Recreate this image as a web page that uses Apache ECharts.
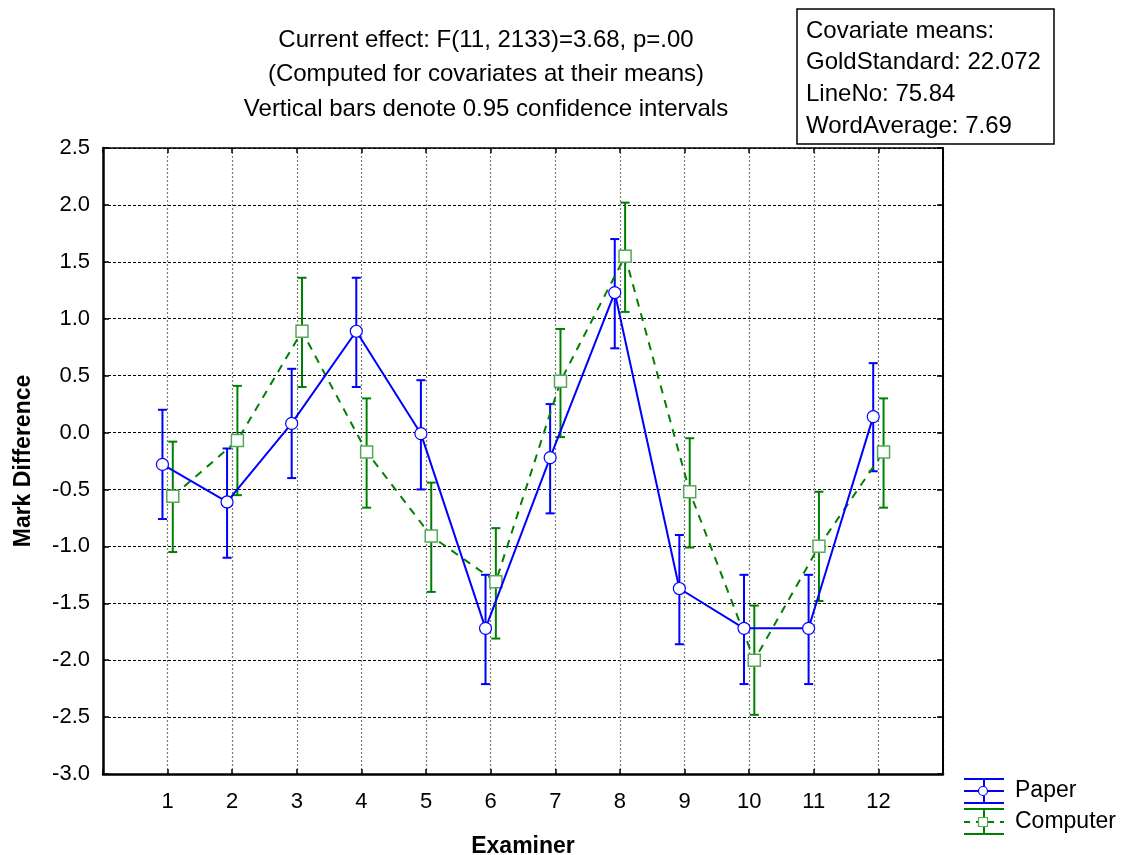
<!DOCTYPE html>
<html>
<head>
<meta charset="utf-8">
<script src="https://cdn.jsdelivr.net/npm/echarts@6/dist/echarts.min.js"></script>
<style>
html,body{margin:0;padding:0;background:#fff;}
#chart{width:1145px;height:855px;}
</style>
</head>
<body>
<div id="chart"></div>
<script>
// ---- data ----
const categories = [1, 2, 3, 4, 5, 6, 7, 8, 9, 10, 11, 12];
const paperMean = [-0.28, -0.61, 0.08, 0.89, -0.01, -1.72, -0.22, 1.23, -1.37, -1.72, -1.72, 0.14];
const paperLow  = [-0.76, -1.10, -0.40, 0.40, -0.50, -2.21, -0.71, 0.74, -1.86, -2.21, -2.21, -0.34];
const paperHigh = [0.20, -0.14, 0.56, 1.36, 0.46, -1.25, 0.25, 1.70, -0.90, -1.25, -1.25, 0.61];
const compMean  = [-0.56, -0.07, 0.89, -0.17, -0.91, -1.31, 0.45, 1.55, -0.52, -2.00, -1.00, -0.17];
const compLow   = [-1.05, -0.55, 0.40, -0.66, -1.40, -1.81, -0.04, 1.06, -1.01, -2.48, -1.48, -0.66];
const compHigh  = [-0.08, 0.41, 1.36, 0.30, -0.44, -0.84, 0.91, 2.02, -0.05, -1.52, -0.52, 0.30];
const yTicks = { min: -3.0, max: 2.5, step: 0.5 };
const titleLines = [
  'Current effect: F(11, 2133)=3.68, p=.00',
  '(Computed for covariates at their means)',
  'Vertical bars denote 0.95 confidence intervals'
];
const covLines = ['Covariate means:', 'GoldStandard: 22.072', 'LineNo: 75.84', 'WordAverage: 7.69'];
const seriesNames = ['Paper', 'Computer'];

// ---- styling ----
const FONT = "'Liberation Sans', Arial, sans-serif";
const BLUE = '#0000ff';
const GREEN = '#008000';
const SHIFT = 0.08;

const chart = echarts.init(document.getElementById('chart'), null, { renderer: 'canvas' });

function errData(lo, hi, dx) {
  return categories.map((c, i) => [c + dx, lo[i], hi[i]]);
}
function lineData(mean, dx) {
  return categories.map((c, i) => [c + dx, mean[i]]);
}
function errRender(color) {
  return function (params, api) {
    const x = api.value(0);
    const p1 = api.coord([x, api.value(1)]);
    const p2 = api.coord([x, api.value(2)]);
    const w = 4.5;
    const st = { stroke: color, lineWidth: 2 };
    return {
      type: 'group',
      children: [
        { type: 'line', shape: { x1: p1[0], y1: p1[1], x2: p2[0], y2: p2[1] }, style: st },
        { type: 'line', shape: { x1: p1[0] - w, y1: p1[1], x2: p1[0] + w, y2: p1[1] }, style: st },
        { type: 'line', shape: { x1: p2[0] - w, y1: p2[1], x2: p2[0] + w, y2: p2[1] }, style: st }
      ]
    };
  };
}

const txt = (text, x, y, size, extra) => ({
  type: 'text', x: x, y: y,
  style: Object.assign({ text: text, font: size + 'px ' + FONT, fill: '#000', textVerticalAlign: 'middle' }, extra || {})
});

const graphics = [];
titleLines.forEach((t, i) => graphics.push(txt(t, 486, 40 + i * 34.5, 24, { textAlign: 'center' })));
graphics.push({ type: 'rect', shape: { x: 797, y: 9, width: 257, height: 135 }, style: { fill: '#fff', stroke: '#000', lineWidth: 1.5 } });
covLines.forEach((t, i) => graphics.push(txt(t, 806, 31 + i * 31.7, 24, { textAlign: 'left' })));
// legend
function legendIcon(yTop, yMid, yBot, color, dashed, symbol) {
  const st = { stroke: color, lineWidth: 2 };
  const items = [
    { type: 'line', shape: { x1: 964, y1: yTop, x2: 1004, y2: yTop }, style: st },
    { type: 'line', shape: { x1: 964, y1: yBot, x2: 1004, y2: yBot }, style: st },
    { type: 'line', shape: { x1: 984, y1: yTop, x2: 984, y2: yBot }, style: st },
    { type: 'line', shape: { x1: 964, y1: yMid, x2: 1004, y2: yMid }, style: { stroke: color, lineWidth: 2, lineDash: dashed ? [6, 6] : null } }
  ];
  if (symbol === 'circle') {
    items.push({ type: 'circle', shape: { cx: 983, cy: yMid, r: 4.5 }, style: { fill: '#fff', stroke: BLUE, lineWidth: 1.2 } });
  } else {
    items.push({ type: 'rect', shape: { x: 978.5, y: yMid - 4.5, width: 9, height: 9 }, style: { fill: '#fff', stroke: '#55a855', lineWidth: 1.2 } });
  }
  return items;
}
legendIcon(779, 791, 803, BLUE, false, 'circle').forEach(g => graphics.push(g));
legendIcon(809, 822, 834, GREEN, true, 'rect').forEach(g => graphics.push(g));
graphics.push(txt(seriesNames[0], 1015, 791, 23));
graphics.push(txt(seriesNames[1], 1015, 822, 23));

const option = {
  backgroundColor: '#fff',
  animation: false,
  grid: { left: 103, top: 148, right: 202, bottom: 81, show: false, containLabel: false, outerBoundsMode: 'none' },
  xAxis: [
    {
      type: 'value', min: 0, max: 13, interval: 1, position: 'bottom',
      name: 'Examiner', nameLocation: 'middle', nameGap: 61,
      nameTextStyle: { fontFamily: FONT, fontSize: 23, fontWeight: 'bold', color: '#000' },
      axisLine: { show: true, onZero: false, lineStyle: { color: '#000', width: 2.5 } },
      axisTick: { show: true, inside: true, length: 5, lineStyle: { color: '#000', width: 1.5 } },
      axisLabel: {
        fontFamily: FONT, fontSize: 22, color: '#000', margin: 17,
        formatter: v => (v >= 1 && v <= 12) ? String(v) : ''
      },
      splitLine: { show: true, lineStyle: { color: '#7a7a7a', width: 1.2, type: [2, 2] } }
    },
    {
      type: 'value', min: 0, max: 13, interval: 1, position: 'top',
      axisLine: { show: true, onZero: false, lineStyle: { color: '#000', width: 1.5 } },
      axisTick: { show: true, inside: true, length: 5, lineStyle: { color: '#000', width: 1.5 } },
      axisLabel: { show: false }, splitLine: { show: false }
    }
  ],
  yAxis: [
    {
      type: 'value', min: yTicks.min, max: yTicks.max, interval: yTicks.step, position: 'left',
      name: 'Mark Difference', nameLocation: 'middle', nameGap: 68, nameRotate: 90,
      nameTextStyle: { fontFamily: FONT, fontSize: 23, fontWeight: 'bold', color: '#000' },
      axisLine: { show: true, onZero: false, lineStyle: { color: '#000', width: 2.5 } },
      axisTick: { show: true, inside: true, length: 6, lineStyle: { color: '#000', width: 1.5 } },
      axisLabel: { fontFamily: FONT, fontSize: 22, color: '#000', margin: 13, formatter: v => v.toFixed(1) },
      splitLine: { show: true, lineStyle: { color: '#000', width: 1, type: [3, 2] } }
    },
    {
      type: 'value', min: yTicks.min, max: yTicks.max, interval: yTicks.step, position: 'right',
      axisLine: { show: true, onZero: false, lineStyle: { color: '#000', width: 2 } },
      axisTick: { show: true, inside: true, length: 6, lineStyle: { color: '#000', width: 1.5 } },
      axisLabel: { show: false }, splitLine: { show: false }
    }
  ],
  series: [
    {
      name: 'PaperCI', type: 'custom', z: 3, renderItem: errRender(BLUE),
      encode: { x: 0, y: [1, 2] }, data: errData(paperLow, paperHigh, -SHIFT)
    },
    {
      name: 'ComputerCI', type: 'custom', z: 3, renderItem: errRender(GREEN),
      encode: { x: 0, y: [1, 2] }, data: errData(compLow, compHigh, SHIFT)
    },
    {
      name: seriesNames[1], type: 'line', z: 4, data: lineData(compMean, SHIFT),
      lineStyle: { color: GREEN, width: 2, type: [8, 7] },
      symbol: 'rect', symbolSize: 12, showAllSymbol: true,
      itemStyle: { color: '#fff', borderColor: '#55a855', borderWidth: 1.5 }
    },
    {
      name: seriesNames[0], type: 'line', z: 5, data: lineData(paperMean, -SHIFT),
      lineStyle: { color: BLUE, width: 2 },
      symbol: 'circle', symbolSize: 12, showAllSymbol: true,
      itemStyle: { color: '#fff', borderColor: BLUE, borderWidth: 1.2 }
    }
  ],
  graphic: { elements: graphics }
};
chart.setOption(option);
</script>
</body>
</html>
